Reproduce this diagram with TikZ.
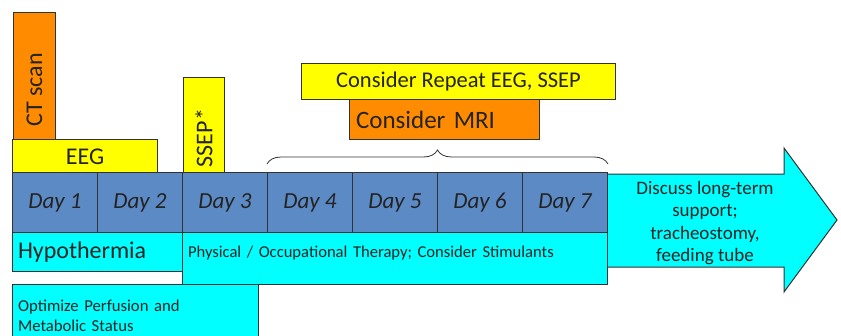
\documentclass[tikz,border=0pt]{standalone}
\usepackage{fontspec}
\setmainfont{Carlito}
\usetikzlibrary{decorations.pathreplacing}
\definecolor{yel}{RGB}{255,255,0}
\definecolor{org}{RGB}{255,140,0}
\definecolor{dayblue}{RGB}{92,138,196}
\definecolor{cyn}{RGB}{0,255,255}
\definecolor{edge}{RGB}{50,50,50}
\definecolor{txt}{RGB}{35,35,35}
\tikzset{
  box/.style={draw=edge, line width=1pt, anchor=north west, inner sep=0pt, text=txt},
  daybox/.style={box, fill=dayblue, minimum width=85pt, minimum height=60pt, font=\fontsize{23}{25}\selectfont\itshape},
}
\begin{document}
\begin{tikzpicture}[x=1pt,y=-1pt]
\useasboundingbox (0,0) rectangle (841,335);
% arrow
\path[fill=cyn, draw=edge, line width=1pt] (607,174) -- (784,174) -- (784,148) -- (837,220) -- (784,292) -- (784,267) -- (607,267) -- cycle;
\node[text=txt, align=center, font=\fontsize{19}{22.5}\selectfont] (arrowtxt) at (705,223) {Discuss long-term\\support;\\tracheostomy,\\feeding tube};
% top boxes
\node[box, fill=org, minimum width=42pt, minimum height=127pt] (ct) at (13,12) {};
\node[rotate=90, text=txt, font=\fontsize{24}{26}\selectfont] (cttxt) at ([yshift=-14pt]ct.center) {CT scan};
\node[box, fill=yel, minimum width=145pt, minimum height=34pt, font=\fontsize{24}{26}\selectfont] (eeg) at (12,139) {\raisebox{-3pt}{EEG}};
\node[box, fill=yel, minimum width=41pt, minimum height=95pt] (ssep) at (183,77) {};
\node[rotate=90, text=txt, font=\fontsize{24}{26}\selectfont] (sseptxt) at ([yshift=-13pt]ssep.center) {SSEP*};
\node[box, fill=yel, minimum width=314pt, minimum height=36pt, font=\fontsize{22.5}{24}\selectfont] (rep) at (301,63) {Consider Repeat EEG, SSEP};
\node[box, fill=org, minimum width=190pt, minimum height=40pt, font=\fontsize{25}{27}\selectfont, text width=177pt, align=left] (mri) at (349,99) {\raisebox{-2pt}{Consider MRI}};
% day row
\node[daybox] (d1) at (12,172) {Day 1};
\node[daybox] (d2) at (97,172) {Day 2};
\node[daybox] (d3) at (182,172) {Day 3};
\node[daybox] (d4) at (267,172) {Day 4};
\node[daybox] (d5) at (352,172) {Day 5};
\node[daybox] (d6) at (437,172) {Day 6};
\node[daybox] (d7) at (522,172) {Day 7};
% brace
\draw[decorate, decoration={brace, amplitude=14pt}, line width=0.8pt, draw=edge] ([yshift=8pt]d4.north west) -- ([yshift=8pt]d7.north east);
% lower boxes
\node[box, fill=cyn, minimum width=170pt, minimum height=39pt, font=\fontsize{24}{26}\selectfont, text width=159pt, align=left] (hypo) at (12,232) {\raisebox{-1pt}{Hypothermia}};
\node[box, fill=cyn, minimum width=425pt, minimum height=52pt, font=\fontsize{16.6}{18}\selectfont, text width=414pt, align=left] (pt) at (182,232) {\raisebox{14pt}{Physical / Occupational Therapy; Consider Stimulants}};
\node[box, fill=cyn, minimum width=246pt, minimum height=62pt, font=\fontsize{16.7}{20}\selectfont, text width=235pt, align=left] (opt) at (12,284) {\raisebox{7pt}{\parbox{235pt}{Optimize Perfusion and\\Metabolic Status}}};
\end{tikzpicture}
\end{document}
